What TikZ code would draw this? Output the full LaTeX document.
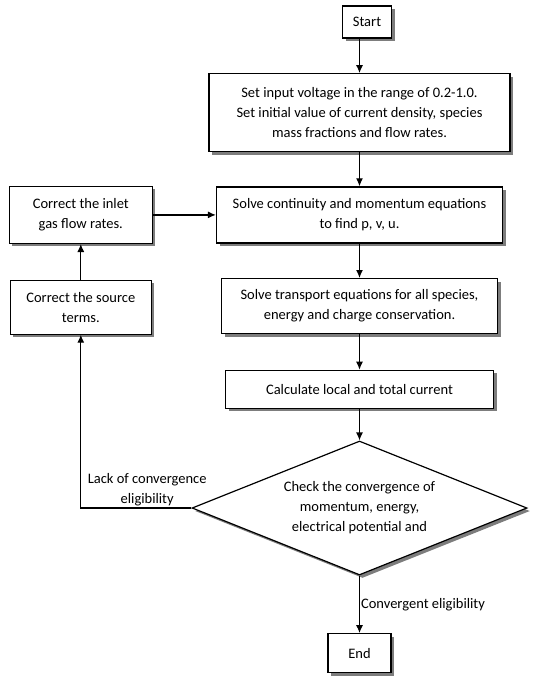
\documentclass[tikz,border=0pt]{standalone}
\usepackage{fontspec}
\setmainfont{Carlito}
\usetikzlibrary{positioning,shapes.geometric,shadows,arrows.meta}

\begin{document}
\begin{tikzpicture}[x=1pt, y=1pt,
  box/.style={rectangle, draw=black, fill=white, line width=1.2pt, align=center, inner sep=2pt,
    font=\fontsize{14.5}{20}\selectfont,
    drop shadow={shadow xshift=3pt, shadow yshift=-3pt, fill=black!60, opacity=0.85}},
  check/.style={diamond, draw=black, fill=white, line width=1.2pt, align=center, inner sep=-5pt,
    aspect=2.5, minimum width=335pt, minimum height=134pt, font=\fontsize{14.5}{20}\selectfont,
    drop shadow={shadow xshift=3pt, shadow yshift=-3pt, fill=black!60, opacity=0.85}},
  arrow/.style={->, >={Latex[length=8pt, width=7pt]}, line width=1.2pt},
  lbl/.style={font=\fontsize{14.5}{20}\selectfont, align=center, inner sep=1pt}
]
  \useasboundingbox (0,0) rectangle (559,-679);

  % Nodes
  \node[box, minimum width=49pt, minimum height=32pt] (start) at (367,-22) {Start};
  \node[box, minimum width=301pt, minimum height=78pt, below=34.5pt of start, xshift=-7.5pt] (init)
    {Set input voltage in the range of 0.2-1.0.\\Set initial value of current density, species\\mass fractions and flow rates.};
  \node[box, minimum width=286pt, minimum height=56pt, below=34pt of init] (moment)
    {Solve continuity and momentum equations\\to find p, v, u.};
  \node[box, minimum width=143pt, minimum height=57pt, left=63pt of moment] (inlet)
    {Correct the inlet\\gas flow rates.};
  \node[box, minimum width=276pt, minimum height=55pt, below=34.5pt of moment] (transport)
    {Solve transport equations for all species,\\energy and charge conservation.};
  \node[box, minimum width=141pt, minimum height=54pt, below=35.5pt of inlet] (source)
    {Correct the source\\terms.};
  \node[box, minimum width=268pt, minimum height=38pt, below=35.5pt of transport] (current)
    {Calculate local and total current};
  \node[check, below=31.5pt of current] (conv)
    {Check the convergence of\\momentum, energy,\\electrical potential and};
  \node[box, minimum width=63pt, minimum height=39pt, below=57.5pt of conv] (finish) {End};

  % Connections
  \draw[arrow] (start.south -| init.north) -- (init.north);
  \draw[arrow] (init) -- (moment);
  \draw[arrow] (moment) -- (transport);
  \draw[arrow] (transport) -- (current);
  \draw[arrow] (current) -- (conv);
  \draw[arrow] (conv) -- node[lbl, right] {Convergent eligibility} (finish);
  \draw[arrow] (conv.west) -- node[lbl, above, pos=0.4] {Lack of convergence\\eligibility} (conv.west -| source.south) -- (source.south);
  \draw[arrow] (source) -- (inlet);
  \draw[arrow] (inlet) -- (moment);

\end{tikzpicture}
\end{document}
